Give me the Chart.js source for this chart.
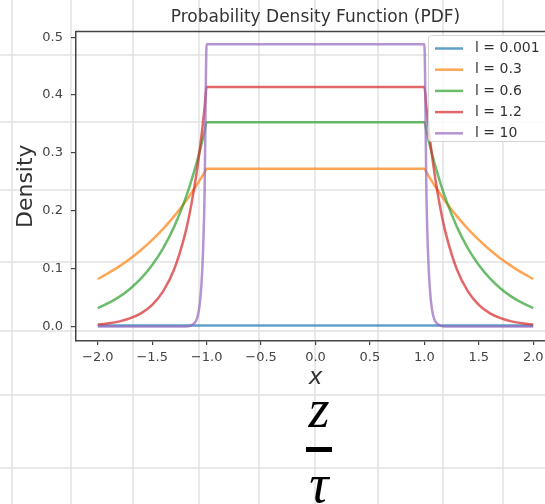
<!DOCTYPE html>
<html>
<head>
<meta charset="utf-8">
<title>Probability Density Function (PDF)</title>
<script src="https://cdn.jsdelivr.net/npm/chart.js@4.4.1/dist/chart.umd.min.js"></script>
<style>
  html, body { margin: 0; padding: 0; background: #fff; overflow: hidden; }
  body { width: 545px; height: 504px; position: relative; }
  #chart { position: absolute; left: 0; top: 0; }
  .frac { position: absolute; left: 269px; width: 100px; text-align: center;
          font-family: "Liberation Serif", serif; font-style: italic;
          font-size: 54px; line-height: 54px; color: #000; }
  #fracBar { position: absolute; left: 306px; top: 447px; width: 26px; height: 5px; background: #000; }
</style>
</head>
<body>
<canvas id="chart" width="555" height="504"></canvas>
<div class="frac" style="top: 382px;">z</div>
<div id="fracBar"></div>
<div class="frac" style="top: 457px;">τ</div>

<script>
//
// Variables
//

var xValues = [-2.0, -1.9, -1.8, -1.7, -1.6, -1.5, -1.4, -1.3, -1.2, -1.15, -1.1, -1.08, -1.06, -1.04, -1.02, -1.0,
  1.0, 1.02, 1.04, 1.06, 1.08, 1.1, 1.15, 1.2, 1.3, 1.4, 1.5, 1.6, 1.7, 1.8, 1.9, 2.0];

var seriesLabels = ['l = 0.001', 'l = 0.3', 'l = 0.6', 'l = 1.2', 'l = 10'];

var density0001 = [0.002, 0.002, 0.002, 0.002, 0.002, 0.002, 0.002, 0.002, 0.002, 0.002, 0.002, 0.002, 0.002, 0.002, 0.002, 0.002,
  0.002, 0.002, 0.002, 0.002, 0.002, 0.002, 0.002, 0.002, 0.002, 0.002, 0.002, 0.002, 0.002, 0.002, 0.002, 0.002];

var density03 = [0.0821, 0.0926, 0.1044, 0.1177, 0.1328, 0.1497, 0.1688, 0.1903, 0.2145, 0.2278, 0.2419, 0.2478, 0.2538, 0.2599, 0.2662, 0.2727,
  0.2727, 0.2662, 0.2599, 0.2538, 0.2478, 0.2419, 0.2278, 0.2145, 0.1903, 0.1688, 0.1497, 0.1328, 0.1177, 0.1044, 0.0926, 0.0821];

var density06 = [0.0320, 0.0407, 0.0517, 0.0658, 0.0836, 0.1063, 0.1351, 0.1718, 0.2184, 0.2462, 0.2776, 0.2913, 0.3056, 0.3206, 0.3364, 0.3529,
  0.3529, 0.3364, 0.3206, 0.3056, 0.2913, 0.2776, 0.2462, 0.2184, 0.1718, 0.1351, 0.1063, 0.0836, 0.0658, 0.0517, 0.0407, 0.0320];

var density12 = [0.0034, 0.0055, 0.0089, 0.0144, 0.0232, 0.0375, 0.0607, 0.0980, 0.1584, 0.2014, 0.2561, 0.2818, 0.3103, 0.3415, 0.3759, 0.4138,
  0.4138, 0.3759, 0.3415, 0.3103, 0.2818, 0.2561, 0.2014, 0.1584, 0.0980, 0.0607, 0.0375, 0.0232, 0.0144, 0.0089, 0.0055, 0.0034];

var density10 = [0, 0, 0, 0, 0, 0, 0, 0, 0.0002, 0.0012, 0.0089, 0.0199, 0.0443, 0.0985, 0.2192, 0.4878,
  0.4878, 0.2192, 0.0985, 0.0443, 0.0199, 0.0089, 0.0012, 0.0002, 0, 0, 0, 0, 0, 0, 0, 0];

var xTicks = [-2.0, -1.5, -1.0, -0.5, 0.0, 0.5, 1.0, 1.5, 2.0];
var xTickLabels = ['\u22122.0', '\u22121.5', '\u22121.0', '\u22120.5', '0.0', '0.5', '1.0', '1.5', '2.0'];
var yTicks = [0.0, 0.1, 0.2, 0.3, 0.4, 0.5];
var yTickLabels = ['0.0', '0.1', '0.2', '0.3', '0.4', '0.5'];

// matplotlib tab colours, a bit washed out
var lineColors = [
  'rgba(31, 119, 180, 0.7)',
  'rgba(255, 127, 14, 0.7)',
  'rgba(44, 160, 44, 0.7)',
  'rgba(214, 39, 40, 0.7)',
  'rgba(148, 103, 189, 0.7)'
];

// graph paper lines behind the figure (page pixels)
var paperX = [12, 71, 133, 199, 259, 315, 378, 443, 503];
var paperY = [55, 122, 190, 262, 331, 395, 468];


//
// Methods
//

/**
 * Pair the x values with one series
 */
function toPoints(values) {
  return xValues.map(function (x, i) {
    return { x: x, y: values[i] };
  });
}

/**
 * Graph paper in the background
 */
var paperPlugin = {
  id: 'paper',
  beforeDraw: function (chart) {
    var ctx = chart.ctx;
    ctx.save();
    ctx.fillStyle = '#fff';
    ctx.fillRect(0, 0, chart.width, chart.height);
    ctx.strokeStyle = '#e2e2e2';
    ctx.lineWidth = 1.5;
    paperX.forEach(function (x) {
      ctx.beginPath();
      ctx.moveTo(x, 0);
      ctx.lineTo(x, chart.height);
      ctx.stroke();
    });
    paperY.forEach(function (y) {
      ctx.beginPath();
      ctx.moveTo(0, y);
      ctx.lineTo(chart.width, y);
      ctx.stroke();
    });
    ctx.restore();
  }
};

/**
 * Top spine and the legend inside the plot
 */
var framePlugin = {
  id: 'frame',
  afterDraw: function (chart) {
    var ctx = chart.ctx;
    var area = chart.chartArea;
    ctx.save();

    ctx.strokeStyle = '#444';
    ctx.lineWidth = 1.5;
    ctx.beginPath();
    ctx.moveTo(area.left, area.top);
    ctx.lineTo(area.right, area.top);
    ctx.stroke();

    // legend box
    ctx.beginPath();
    if (ctx.roundRect) {
      ctx.roundRect(428.5, 35.5, 122, 106, 3);
    } else {
      ctx.rect(428.5, 35.5, 122, 106);
    }
    ctx.fillStyle = 'rgba(255, 255, 255, 0.8)';
    ctx.fill();
    ctx.strokeStyle = '#d4d4d4';
    ctx.lineWidth = 1;
    ctx.stroke();

    ctx.font = '14px "DejaVu Sans"';
    ctx.textBaseline = 'middle';
    ctx.textAlign = 'left';
    chart.data.datasets.forEach(function (ds, i) {
      var y = 48.5 + i * 21.2;
      ctx.strokeStyle = ds.borderColor;
      ctx.lineWidth = 2.5;
      ctx.beginPath();
      ctx.moveTo(435, y);
      ctx.lineTo(463, y);
      ctx.stroke();
      ctx.fillStyle = '#333';
      ctx.fillText(ds.label, 475, y);
    });
    ctx.restore();
  }
};


//
// Chart
//

var datasets = [density0001, density03, density06, density12, density10].map(function (values, i) {
  return {
    label: seriesLabels[i],
    data: toPoints(values),
    borderColor: lineColors[i],
    backgroundColor: lineColors[i],
    borderWidth: 2.5,
    pointRadius: 0,
    cubicInterpolationMode: 'monotone',
    fill: false,
    order: 4 - i
  };
});

var ctx = document.querySelector('#chart').getContext('2d');
var chart = new Chart(ctx, {
  type: 'line',
  data: { datasets: datasets },
  options: {
    responsive: false,
    animation: false,
    devicePixelRatio: 1,
    layout: { padding: { left: 0, right: 0, top: 0, bottom: 111 } },
    plugins: {
      legend: { display: false },
      tooltip: { enabled: false },
      title: {
        display: true,
        text: 'Probability Density Function (PDF)',
        fullSize: false,
        color: '#333',
        font: { family: 'DejaVu Sans', size: 17, weight: 'normal' },
        padding: { top: 7, bottom: 4 }
      }
    },
    scales: {
      x: {
        type: 'linear',
        min: -2.2,
        max: 2.2,
        afterBuildTicks: function (scale) {
          scale.ticks = xTicks.map(function (v) { return { value: v }; });
        },
        afterFit: function (scale) {
          scale.height = 52;
        },
        ticks: {
          autoSkip: false,
          maxRotation: 0,
          padding: 5,
          color: '#444',
          font: { family: 'DejaVu Sans', size: 13 },
          callback: function (value, index) { return xTickLabels[index]; }
        },
        grid: { drawOnChartArea: false, tickLength: 4, color: '#444', lineWidth: 1.2 },
        border: { display: true, color: '#444', width: 1.5 },
        title: {
          display: true,
          text: 'x',
          color: '#333',
          font: { family: 'DejaVu Sans', size: 23, style: 'italic' },
          padding: { top: 0, bottom: 1 }
        }
      },
      y: {
        type: 'linear',
        min: -0.025,
        max: 0.51,
        afterBuildTicks: function (scale) {
          scale.ticks = yTicks.map(function (v) { return { value: v }; });
        },
        afterFit: function (scale) {
          scale.width = 76;
        },
        ticks: {
          autoSkip: false,
          padding: 8,
          color: '#444',
          font: { family: 'DejaVu Sans', size: 13 },
          callback: function (value, index) { return yTickLabels[index]; }
        },
        grid: { drawOnChartArea: false, tickLength: 5, color: '#444', lineWidth: 1.2 },
        border: { display: true, color: '#444', width: 1.5 },
        title: {
          display: true,
          text: 'Density',
          color: '#333',
          font: { family: 'DejaVu Sans', size: 22 },
          padding: { top: 13, bottom: 0 }
        }
      }
    }
  },
  plugins: [paperPlugin, framePlugin]
});
</script>
</body>
</html>
